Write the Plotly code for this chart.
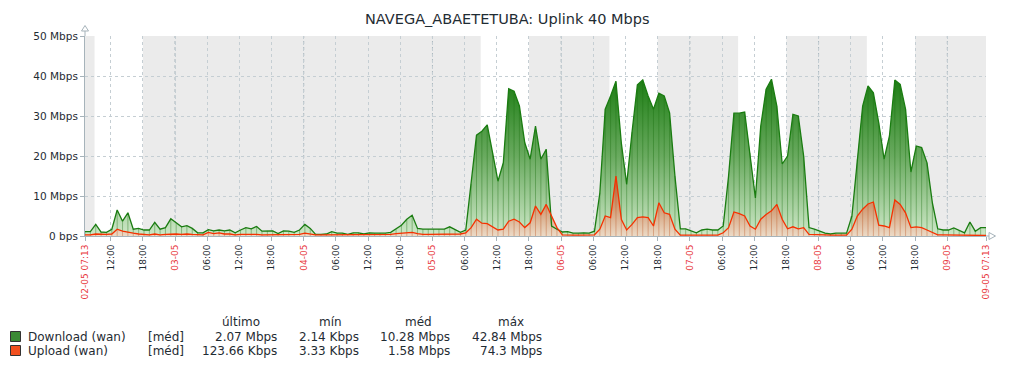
import plotly.graph_objects as go
from datetime import datetime, timedelta

# ---------------- data ----------------
title_text = "NAVEGA_ABAETETUBA: Uplink 40 Mbps"
start = datetime(2025, 5, 2, 7, 13)
n_hours = 168
hours = list(range(n_hours + 1))

download_mbps = [
    1.1, 1.1, 2.9, 1.0, 0.9, 1.7, 6.5, 3.7, 5.8, 1.7, 1.9, 1.5,
    1.5, 3.4, 1.7, 2.1, 4.3, 3.2, 2.3, 2.6, 1.9, 0.8, 0.8, 1.6,
    1.3, 1.5, 1.3, 1.5, 0.8, 1.5, 2.1, 1.8, 2.4, 1.2, 1.3, 1.3,
    0.6, 1.3, 1.2, 0.9, 1.5, 2.9, 1.9, 0.4, 0.4, 0.5, 1.1, 0.7,
    0.7, 0.4, 0.8, 0.8, 0.5, 0.8, 0.7, 0.7, 0.7, 0.9, 1.7, 2.7,
    4.2, 5.2, 1.9, 1.7, 1.7, 1.7, 1.7, 1.7, 2.3, 1.5, 0.9, 1.5,
    13.0, 25.2, 26.2, 27.8, 20.8, 13.7, 18.3, 36.8, 36.2, 32.5, 23.3, 19.2,
    27.5, 19.2, 21.7, 2.5, 1.7, 1.0, 1.1, 0.7, 0.7, 0.8, 0.7, 1.2,
    10.8, 31.7, 35.0, 38.7, 23.3, 12.9, 26.0, 37.8, 39.0, 35.0, 31.7, 35.7,
    35.0, 30.8, 15.0, 1.8, 1.8, 1.2, 0.8, 1.5, 1.7, 1.5, 1.5, 2.5,
    15.0, 30.7, 30.7, 31.0, 20.8, 9.5, 27.5, 36.7, 39.2, 32.5, 18.0, 20.0,
    30.4, 30.0, 20.0, 2.1, 1.7, 1.2, 0.7, 0.5, 0.7, 0.7, 0.7, 5.0,
    19.2, 32.5, 37.5, 35.8, 28.3, 19.2, 25.0, 39.0, 37.9, 31.7, 16.0, 22.5,
    22.1, 18.3, 8.3, 1.8, 1.5, 1.5, 2.0, 1.5, 0.8, 3.5, 1.2, 2.1,
    2.07,
]

upload_mbps = [
    0.3, 0.3, 0.5, 0.4, 0.4, 0.5, 1.7, 1.2, 0.9, 0.7, 0.5, 0.4,
    0.3, 0.5, 0.3, 0.4, 0.5, 0.5, 0.4, 0.5, 0.4, 0.3, 0.3, 0.9,
    0.6, 0.8, 0.5, 0.5, 0.3, 0.4, 0.4, 0.5, 0.4, 0.3, 0.3, 0.3,
    0.3, 0.3, 0.3, 0.3, 0.4, 0.7, 0.5, 0.3, 0.3, 0.3, 0.3, 0.3,
    0.3, 0.3, 0.3, 0.3, 0.3, 0.3, 0.3, 0.3, 0.3, 0.4, 0.6, 0.7,
    0.8, 0.9, 0.6, 0.4, 0.4, 0.4, 0.4, 0.4, 0.4, 0.4, 0.5, 0.8,
    2.1, 4.2, 3.2, 3.1, 2.3, 1.5, 1.7, 3.7, 4.2, 3.5, 2.1, 3.3,
    7.5, 5.4, 7.9, 5.0, 2.1, 0.3, 0.2, 0.2, 0.2, 0.2, 0.2, 0.3,
    1.7, 5.0, 4.6, 15.0, 4.2, 1.5, 2.9, 4.6, 4.8, 4.6, 2.5, 8.3,
    5.8, 5.4, 1.7, 0.2, 0.2, 0.2, 0.3, 0.3, 0.2, 0.2, 0.2, 0.8,
    2.1, 6.0, 5.6, 5.0, 2.5, 1.7, 4.2, 5.4, 6.3, 7.9, 4.2, 1.8,
    2.3, 1.8, 2.1, 0.4, 0.4, 0.4, 0.3, 0.2, 0.2, 0.2, 0.2, 1.7,
    5.0, 6.7, 8.0, 8.5, 2.7, 2.5, 2.1, 9.0, 7.9, 5.8, 2.1, 2.3,
    2.1, 1.5, 0.8, 0.3, 0.3, 0.3, 0.3, 0.3, 0.3, 0.3, 0.3, 0.2,
    0.12,
]

y_tick_values = [0, 10, 20, 30, 40, 50]
y_tick_labels = ["0 bps", "10 Mbps", "20 Mbps", "30 Mbps", "40 Mbps", "50 Mbps"]

series_names = ["Download (wan)", "Upload (wan)"]
series_func = "[méd]"
stat_headers = ["último", "mín", "méd", "máx"]
download_stats = ["2.07 Mbps", "2.14 Kbps", "10.28 Mbps", "42.84 Mbps"]
upload_stats = ["123.66 Kbps", "3.33 Kbps", "1.58 Mbps", "74.3 Mbps"]

work_start_hour, work_end_hour = 9, 18  # Mon-Fri working time (white)

# ---------------- styling / geometry ----------------
W, H = 1016, 368
PL, PR, PT, PB = 85, 986, 36, 236
FONT = "DejaVu Sans"
TXT = "#1f2c33"
RED = "#e8383d"
GRID = "#c5ced3"
GRID_DAY = "#a9b6bd"
AXIS = "#a6b3ba"
GREEN = "#1A7C11"
ORANGE = "#F63100"


def px(x):
    return (x - PL) / (PR - PL)


def py(y):
    return (PB - y) / (PB - PT)


end = start + timedelta(hours=n_hours)
times = [start + timedelta(hours=h) for h in hours]

# ticks every 6 hours plus the period ends
ticks = [start]
t = datetime(start.year, start.month, start.day, 12, 0)
while t < end - timedelta(hours=1.5):
    ticks.append(t)
    t += timedelta(hours=6)
ticks.append(end)
tick_text = []
for i, t in enumerate(ticks):
    if i == 0 or i == len(ticks) - 1:
        tick_text.append(f'<span style="color:{RED}">{t:%d-%m %H:%M}</span>')
    elif t.hour == 0:
        tick_text.append(f'<span style="color:{RED}">{t:%d-%m}</span>')
    else:
        tick_text.append(f"{t:%H:%M}")

shapes = []
# non-working time shading
cur = start
day = datetime(start.year, start.month, start.day)
intervals = []
while day < end:
    if day.weekday() < 5:
        ws = day + timedelta(hours=work_start_hour)
        we = day + timedelta(hours=work_end_hour)
        if ws > cur:
            intervals.append((cur, min(ws, end)))
        cur = max(cur, we)
    day += timedelta(days=1)
if cur < end:
    intervals.append((cur, end))
for a, b in intervals:
    if b > a:
        shapes.append(dict(type="rect", xref="x", yref="paper", x0=a, x1=b, y0=0, y1=1,
                           fillcolor="#ebebeb", line=dict(width=0), layer="below"))
# darker day lines
for t in ticks[1:-1]:
    if t.hour == 0:
        shapes.append(dict(type="line", xref="x", yref="paper", x0=t, x1=t, y0=0, y1=1,
                           line=dict(color=GRID_DAY, width=1, dash="3px,3px"), layer="below"))
# axis extensions and arrows
shapes.append(dict(type="line", xref="paper", yref="paper", x0=0, x1=0, y0=1, y1=py(31),
                   line=dict(color=AXIS, width=1)))
shapes.append(dict(type="path", xref="paper", yref="paper",
                   path=f"M {px(81.5)} {py(31)} L {px(88.5)} {py(31)} L {px(85)} {py(25.5)} Z",
                   fillcolor="white", line=dict(color=AXIS, width=1)))
shapes.append(dict(type="line", xref="paper", yref="paper", x0=1, x1=px(989), y0=0, y1=0,
                   line=dict(color=AXIS, width=1)))
shapes.append(dict(type="path", xref="paper", yref="paper",
                   path=f"M {px(989)} {py(232.5)} L {px(989)} {py(239.5)} L {px(995.5)} {py(236)} Z",
                   fillcolor="white", line=dict(color=AXIS, width=1)))

fig = go.Figure()

# download area
fig.add_trace(go.Scatter(
    x=times, y=download_mbps, mode="none", fill="tozeroy",
    fillgradient=dict(type="vertical", start=0, stop=40,
                      colorscale=[[0, "rgb(206,232,200)"], [0.5, "rgb(105,170,95)"], [1, "rgb(26,124,17)"]]),
    hoverinfo="skip", showlegend=False))
# download stripes
sx, sy = [], []
for tt, v in zip(times, download_mbps):
    sx += [tt, tt, None]
    sy += [0, v, None]
fig.add_trace(go.Scatter(x=sx, y=sy, mode="lines", line=dict(color="rgba(26,110,17,0.38)", width=1),
                         hoverinfo="skip", showlegend=False))
# upload area
fig.add_trace(go.Scatter(
    x=times, y=upload_mbps, mode="none", fill="tozeroy",
    fillgradient=dict(type="vertical", start=0, stop=15,
                      colorscale=[[0, "rgb(236,218,198)"], [0.5, "rgb(208,152,112)"], [1, "rgb(182,96,52)"]]),
    hoverinfo="skip", showlegend=False))
ux, uy = [], []
for tt, v in zip(times, upload_mbps):
    ux += [tt, tt, None]
    uy += [0, v, None]
fig.add_trace(go.Scatter(x=ux, y=uy, mode="lines", line=dict(color="rgba(190,90,40,0.40)", width=1),
                         hoverinfo="skip", showlegend=False))
# lines
fig.add_trace(go.Scatter(x=times, y=download_mbps, mode="lines", line=dict(color=GREEN, width=1.3),
                         hoverinfo="skip", showlegend=False))
fig.add_trace(go.Scatter(x=times, y=upload_mbps, mode="lines", line=dict(color=ORANGE, width=1.3),
                         hoverinfo="skip", showlegend=False))

annotations = []
annotations.append(dict(text=title_text, xref="paper", yref="paper", x=px(507), y=py(19),
                        xanchor="center", yanchor="middle", showarrow=False,
                        font=dict(family=FONT, size=14.5, color=TXT)))
# legend table
header_x = [241, 330, 418, 511]
value_right = [278.5, 360.5, 451.5, 544]
row_y = [336.5, 350.5]
for hx, htxt in zip(header_x, stat_headers):
    annotations.append(dict(text=htxt, xref="paper", yref="paper", x=px(hx), y=py(322),
                            xanchor="center", yanchor="middle", showarrow=False,
                            font=dict(family=FONT, size=12, color=TXT)))
box_colors = ["#3b8a35", "#f2501f"]
for ry, name, stats, bc in zip(row_y, series_names, [download_stats, upload_stats], box_colors):
    shapes.append(dict(type="rect", xref="paper", yref="paper", x0=px(10.5), x1=px(20.5),
                       y0=py(ry + 5), y1=py(ry - 5), fillcolor=bc, line=dict(color="#333", width=1)))
    annotations.append(dict(text=name, xref="paper", yref="paper", x=px(26), y=py(ry),
                            xanchor="left", yanchor="middle", showarrow=False,
                            font=dict(family=FONT, size=12, color=TXT)))
    annotations.append(dict(text=series_func, xref="paper", yref="paper", x=px(146), y=py(ry),
                            xanchor="left", yanchor="middle", showarrow=False,
                            font=dict(family=FONT, size=12, color=TXT)))
    for vx, s in zip(value_right, stats):
        annotations.append(dict(text=s, xref="paper", yref="paper", x=px(vx), y=py(ry),
                                xanchor="right", yanchor="middle", showarrow=False,
                                font=dict(family=FONT, size=12, color=TXT)))

fig.update_layout(
    width=W, height=H,
    margin=dict(l=PL, r=W - PR, t=PT, b=H - PB, pad=0),
    paper_bgcolor="white", plot_bgcolor="white",
    shapes=shapes, annotations=annotations, showlegend=False,
    xaxis=dict(type="date", range=[start, end], tickvals=ticks, ticktext=tick_text,
               tickangle=-90, tickfont=dict(family=FONT, size=9, color=TXT),
               showgrid=True, gridcolor=GRID, griddash="3px,3px", gridwidth=1,
               showline=True, linecolor=AXIS, linewidth=1,
               ticks="outside", ticklen=4, tickcolor=AXIS, zeroline=False, fixedrange=True),
    yaxis=dict(range=[0, 50], tickvals=y_tick_values, ticktext=y_tick_labels,
               tickfont=dict(family=FONT, size=10.5, color=TXT),
               showgrid=True, gridcolor=GRID, griddash="3px,3px", gridwidth=1,
               showline=True, linecolor=AXIS, linewidth=1,
               ticks="outside", ticklen=4, tickcolor=AXIS, zeroline=False, fixedrange=True),
)

fig.write_html("out.html", config=dict(displayModeBar=False),
               post_script="document.body.style.margin='0';document.body.style.padding='0';")
